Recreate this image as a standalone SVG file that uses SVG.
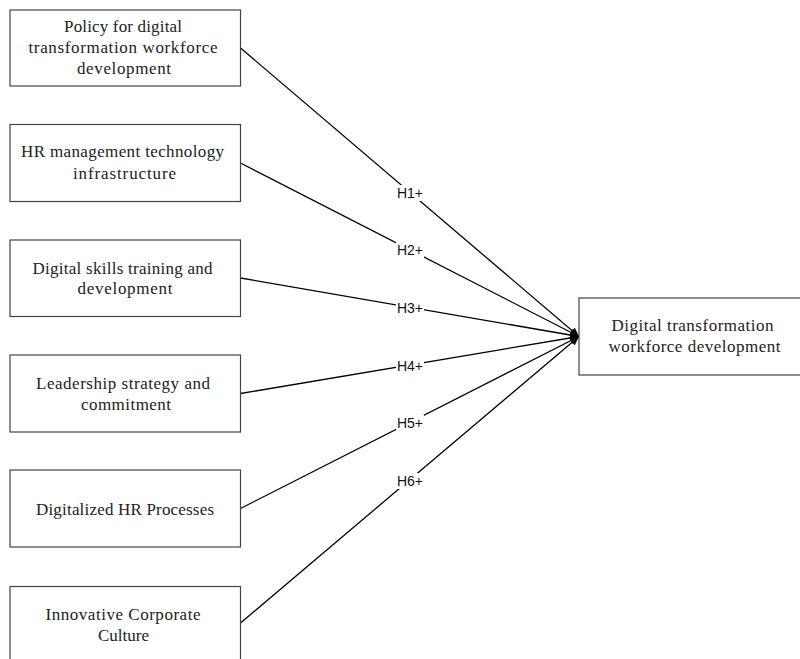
<svg xmlns="http://www.w3.org/2000/svg" width="800" height="659" viewBox="0 0 800 659">
<style>
.box{fill:#fff;stroke:#444;stroke-width:1.2}
.t{font-family:"Liberation Serif","DejaVu Serif",serif;font-size:17px;fill:#222;text-anchor:middle}
.lbl{font-family:"Liberation Sans","Open Sans",sans-serif;font-size:14px;fill:#111;text-anchor:middle}
.edge{stroke:#000;stroke-width:1.3;fill:none;marker-end:url(#ah)}
.bg{fill:#fff}
</style>
<defs>
<marker id="ah" markerUnits="userSpaceOnUse" markerWidth="10" markerHeight="8" refX="9" refY="4" orient="auto">
<path d="M0,0 L9,4 L0,8 Z" fill="#000"/>
</marker>
</defs>
<rect width="800" height="659" fill="#fff"/>
<g id="connectors">
<line class="edge" x1="240.5" y1="48" x2="579" y2="336.5"/>
<line class="edge" x1="240.5" y1="163" x2="579" y2="336.5"/>
<line class="edge" x1="240.5" y1="278" x2="579" y2="336.5"/>
<line class="edge" x1="240.5" y1="393.5" x2="579" y2="336.5"/>
<line class="edge" x1="240.5" y1="508.5" x2="579" y2="336.5"/>
<line class="edge" x1="240.5" y1="623" x2="579" y2="336.5"/>
<rect class="bg" x="396" y="185" width="28" height="16"/>
<text class="lbl" x="410" y="198">H1+</text>
<rect class="bg" x="396" y="242" width="28" height="16"/>
<text class="lbl" x="410" y="255">H2+</text>
<rect class="bg" x="396" y="300" width="28" height="16"/>
<text class="lbl" x="410" y="313">H3+</text>
<rect class="bg" x="396" y="358" width="28" height="16"/>
<text class="lbl" x="410" y="371">H4+</text>
<rect class="bg" x="396" y="415" width="28" height="16"/>
<text class="lbl" x="410" y="428">H5+</text>
<rect class="bg" x="396" y="473" width="28" height="16"/>
<text class="lbl" x="410" y="486">H6+</text>
</g>
<g id="n1">
<rect class="box" x="10" y="10" width="230.5" height="76"/>
<text class="t" x="123" y="32" textLength="118">Policy for digital</text>
<text class="t" x="123" y="53" textLength="189">transformation workforce</text>
<text class="t" x="124" y="74" textLength="94">development</text>
</g>
<g id="n2">
<rect class="box" x="10" y="124.5" width="230.5" height="77"/>
<text class="t" x="122.5" y="157" textLength="203">HR management technology</text>
<text class="t" x="124.5" y="179" textLength="103">infrastructure</text>
</g>
<g id="n3">
<rect class="box" x="10" y="240" width="230.5" height="76.5"/>
<text class="t" x="122.5" y="274" textLength="180">Digital skills training and</text>
<text class="t" x="125" y="294" textLength="95">development</text>
</g>
<g id="n4">
<rect class="box" x="10" y="355" width="230.5" height="77"/>
<text class="t" x="123" y="389" textLength="174">Leadership strategy and</text>
<text class="t" x="126" y="410" textLength="90">commitment</text>
</g>
<g id="n5">
<rect class="box" x="10" y="470" width="230.5" height="77"/>
<text class="t" x="125" y="515" textLength="178">Digitalized HR Processes</text>
</g>
<g id="n6">
<rect class="box" x="10" y="586.5" width="230.5" height="76"/>
<text class="t" x="123" y="619.5" textLength="155">Innovative Corporate</text>
<text class="t" x="123.5" y="640.5" textLength="51">Culture</text>
</g>
<g id="target">
<rect class="box" x="579" y="298" width="230" height="77"/>
<text class="t" x="692.5" y="330.5" textLength="162">Digital transformation</text>
<text class="t" x="694.5" y="352" textLength="172">workforce development</text>
</g>
</svg>
